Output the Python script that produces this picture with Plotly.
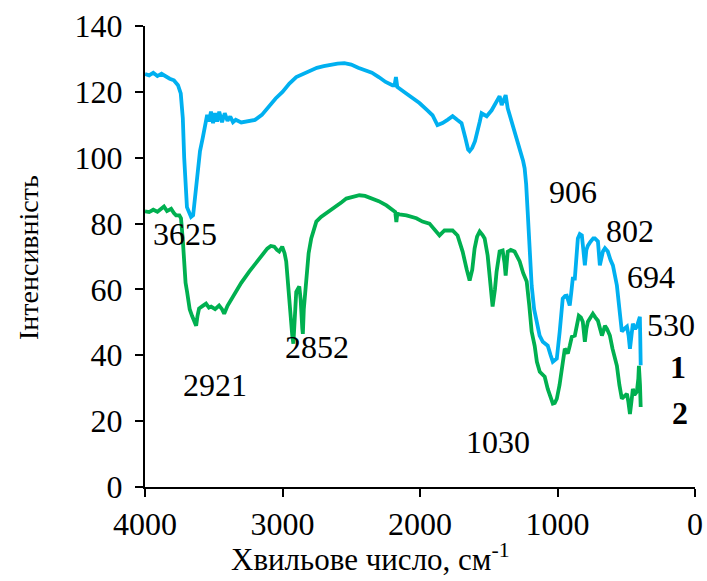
import plotly.graph_objects as go

# IR spectra: wavenumber (cm-1) and intensity for samples 1 and 2
wn_1 = [4000, 3970, 3940, 3910, 3880, 3850, 3820, 3790, 3760, 3740, 3725, 3715, 3705, 3695,
        3680, 3665, 3650, 3635, 3620, 3600, 3580, 3560, 3548, 3535, 3520, 3505, 3490, 3475,
        3460, 3440, 3420, 3400, 3380, 3360, 3340, 3300, 3250, 3200, 3150, 3100, 3050, 3000,
        2950, 2900, 2850, 2800, 2750, 2700, 2650, 2600, 2550, 2500, 2450, 2400, 2350, 2300,
        2250, 2200, 2185, 2175, 2165, 2100, 2050, 2004, 1950, 1909, 1873, 1836, 1800, 1763,
        1730, 1698, 1670, 1650, 1639, 1620, 1600, 1588, 1565, 1552, 1530, 1515, 1479, 1443,
        1421, 1406, 1390, 1377, 1362, 1340, 1326, 1300, 1275, 1250, 1239, 1228, 1217, 1200,
        1188, 1170, 1151, 1130, 1107, 1071, 1050, 1034, 1005, 995, 984, 962, 945, 933, 920,
        911, 900, 889, 874, 860, 852, 838, 823, 812, 801, 790, 779, 760, 740, 728, 706, 692,
        680, 670, 655, 634, 615, 597, 568, 550, 532, 515, 495, 483, 473, 462, 452, 435, 423,
        410, 401, 398, 395]
int_1 = [125.4, 125.0, 125.8, 124.8, 125.5, 124.6, 124.0, 123.5, 122.0, 119.5, 112, 100, 90, 85,
         83.5, 82, 82.5, 88, 96, 102, 106, 110, 113, 111, 114, 110.5, 113.5, 111,
         114, 110.8, 113.5, 111.2, 112.5, 110.8, 111.5, 110.7, 111.2, 111.5, 113, 115.5, 118, 120,
         122.5, 124.5, 125.5, 126.5, 127.3, 127.8, 128.3, 128.6, 128.7, 128.3, 127.3, 126.5, 125.8, 124.5,
         123, 122, 122, 124.5, 121.5, 119.5, 118, 116.6, 114.5, 112.9, 109.9, 110.5, 111.5, 112.6,
         111.5, 110.5, 106, 102.5, 102, 103, 105, 106.8, 111, 113.5, 113, 112.6, 114.4, 117.2,
         118.7, 116, 118, 119, 115, 112, 110, 106, 102.9, 99, 96.8, 92, 83.7, 70,
         61.2, 54, 50.2, 46, 44.1, 42.9, 40, 38, 39, 42, 47.2, 57.2, 58, 58.1, 56.5,
         55.1, 59, 63.3, 63.3, 70, 75.5, 76.8, 76.4, 72, 67.3, 72, 73.3, 74.5, 75.5, 75.5, 74.6, 67.3,
         70, 71.5, 72.5, 71.5, 69, 67.3, 61.2, 54, 47.2, 48, 48.7, 46, 42, 46, 49.6, 48, 48.7,
         50.5, 51.7, 45, 37]

wn_2 = [4000, 3970, 3940, 3910, 3898, 3880, 3862, 3840, 3810, 3790, 3774, 3750, 3738, 3725,
        3716, 3705, 3694, 3675, 3658, 3640, 3628, 3618, 3607, 3580, 3556, 3535, 3519, 3490,
        3461, 3440, 3424, 3400, 3337, 3300, 3242, 3200, 3169, 3111, 3085, 3060, 3040, 3024,
        3002, 2985, 2973, 2955, 2940, 2929, 2921, 2912, 2900, 2878, 2868, 2856, 2852, 2845,
        2827, 2810, 2791, 2770, 2754, 2720, 2681, 2640, 2608, 2570, 2536, 2500, 2441, 2400,
        2346, 2300, 2244, 2200, 2180, 2172, 2165, 2150, 2098, 2026, 1982, 1931, 1880, 1858,
        1822, 1763, 1727, 1690, 1660, 1639, 1620, 1603, 1585, 1566, 1545, 1530, 1508, 1490,
        1472, 1455, 1443, 1421, 1399, 1385, 1377, 1362, 1340, 1312, 1290, 1275, 1250, 1224,
        1205, 1188, 1166, 1150, 1129, 1110, 1093, 1071, 1050, 1034, 1020, 1005, 985, 969,
        958, 947, 936, 925, 910, 896, 874, 860, 845, 830, 816, 808, 801, 790, 779, 760, 743,
        725, 706, 690, 677, 665, 655, 640, 619, 600, 585, 568, 550, 532, 515, 495, 485, 473,
        462, 452, 440, 423, 412, 408, 400, 395]
int_2 = [83.7, 83.5, 84.2, 83.6, 84, 84.8, 85.2, 83.8, 84.5, 83.2, 82.5, 82.5, 81.6, 75,
         67.3, 62, 59.3, 54, 52, 50.5, 49, 52, 54.2, 55, 55.7, 54.5, 54.8, 54,
         55.1, 54, 52.6, 55, 59.3, 62, 65.4, 67.5, 69.4, 72.4, 73.2, 73, 72, 71.5,
         73, 71, 68.5, 58, 50, 46, 43.5, 50, 59.3, 60.9, 57, 48.1, 46.5, 54,
         64.2, 71, 75.5, 78.5, 80.6, 82, 83.1, 84.3, 85.5, 86.5, 87.6, 88, 88.6, 88.4,
         87.6, 86.8, 85.5, 84, 83.5, 80.5, 83, 82.8, 82.5, 81.6, 80.6, 80, 77.6, 76.4,
         77.9, 77.9, 76.4, 71.5, 66, 62.7, 66, 72.4, 76, 77.6, 76.5, 75.5, 70.3, 61,
         54.8, 60, 65.4, 71.5, 71.8, 68, 64.2, 71.5, 72, 71.5, 70, 68.5, 65, 62.4,
         55, 47.2, 42.9, 38, 35, 34, 33.5, 29.8, 27, 25.3, 25.5, 26.8, 31, 35,
         39, 42, 41.5, 40.5, 43, 45.6, 46, 49, 52, 51.5, 50.2, 47, 44.1, 48, 50.2, 51.5, 52.6,
         51.5, 50.5, 48, 46, 47.5, 49, 48, 46, 42, 39, 36.8, 31, 26.8, 27.5, 28.3, 26, 22.2,
         26, 29.8, 28, 28.9, 33, 36.8, 31, 24.3]

# Peak labels (text, wavenumber position, intensity position)
peak_text = ["3625", "2921", "2852", "906", "802", "694", "530", "1030"]
peak_x = [3708, 3490, 2747, 889, 474, 321, 175, 1436]
peak_y = [76.8, 31, 42.6, 89.5, 77.6, 63.9, 49.3, 13.7]

# Curve numbers
curve_text = ["1", "2"]
curve_x = [124, 110]
curve_y = [36.5, 22.5]

x_ticks = [4000, 3000, 2000, 1000, 0]
y_ticks = [0, 20, 40, 60, 80, 100, 120, 140]

FONT = "Liberation Serif"
NUM_SIZE = 32

fig = go.Figure()
fig.add_trace(go.Scatter(x=wn_1, y=int_1, mode="lines",
                         line=dict(color="#00B0F0", width=3.8), showlegend=False))
fig.add_trace(go.Scatter(x=wn_2, y=int_2, mode="lines",
                         line=dict(color="#00B050", width=3.8), showlegend=False))

for t, x, y in zip(peak_text, peak_x, peak_y):
    fig.add_annotation(x=x, y=y, text=t, showarrow=False,
                       font=dict(family=FONT, size=NUM_SIZE, color="black"))
for t, x, y in zip(curve_text, curve_x, curve_y):
    fig.add_annotation(x=x, y=y, text="<b>" + t + "</b>", showarrow=False,
                       font=dict(family=FONT, size=NUM_SIZE, color="black"))

# Axis titles
fig.add_annotation(xref="paper", yref="paper", x=(370 - 145) / 550, y=-(579 - 487) / 461,
                   text="Хвильове число, см<sup>-1</sup>", showarrow=False,
                   xanchor="center", yanchor="bottom",
                   font=dict(family=FONT, size=31, color="black"))
fig.add_annotation(xref="paper", yref="paper", x=-(145 - 28) / 550, y=(487 - 258) / 461,
                   text="Інтенсивність", showarrow=False, textangle=-90,
                   xanchor="center", yanchor="middle",
                   font=dict(family=FONT, size=28, color="black"))

axis_common = dict(ticks="outside", ticklen=8, tickwidth=2, tickcolor="black",
                   showline=True, linecolor="black", linewidth=2, showgrid=False,
                   zeroline=False, automargin=False,
                   tickfont=dict(family=FONT, size=NUM_SIZE, color="black"))

fig.update_layout(
    width=707, height=581,
    margin=dict(l=145, r=12, t=26, b=94),
    paper_bgcolor="white", plot_bgcolor="white",
    font=dict(family=FONT, size=NUM_SIZE, color="black"),
    xaxis=dict(range=[4000, 0], tickvals=x_ticks, **axis_common),
    yaxis=dict(range=[0, 140], tickvals=y_ticks, ticklabelstandoff=6, **axis_common),
)

fig.write_html("out.html")
